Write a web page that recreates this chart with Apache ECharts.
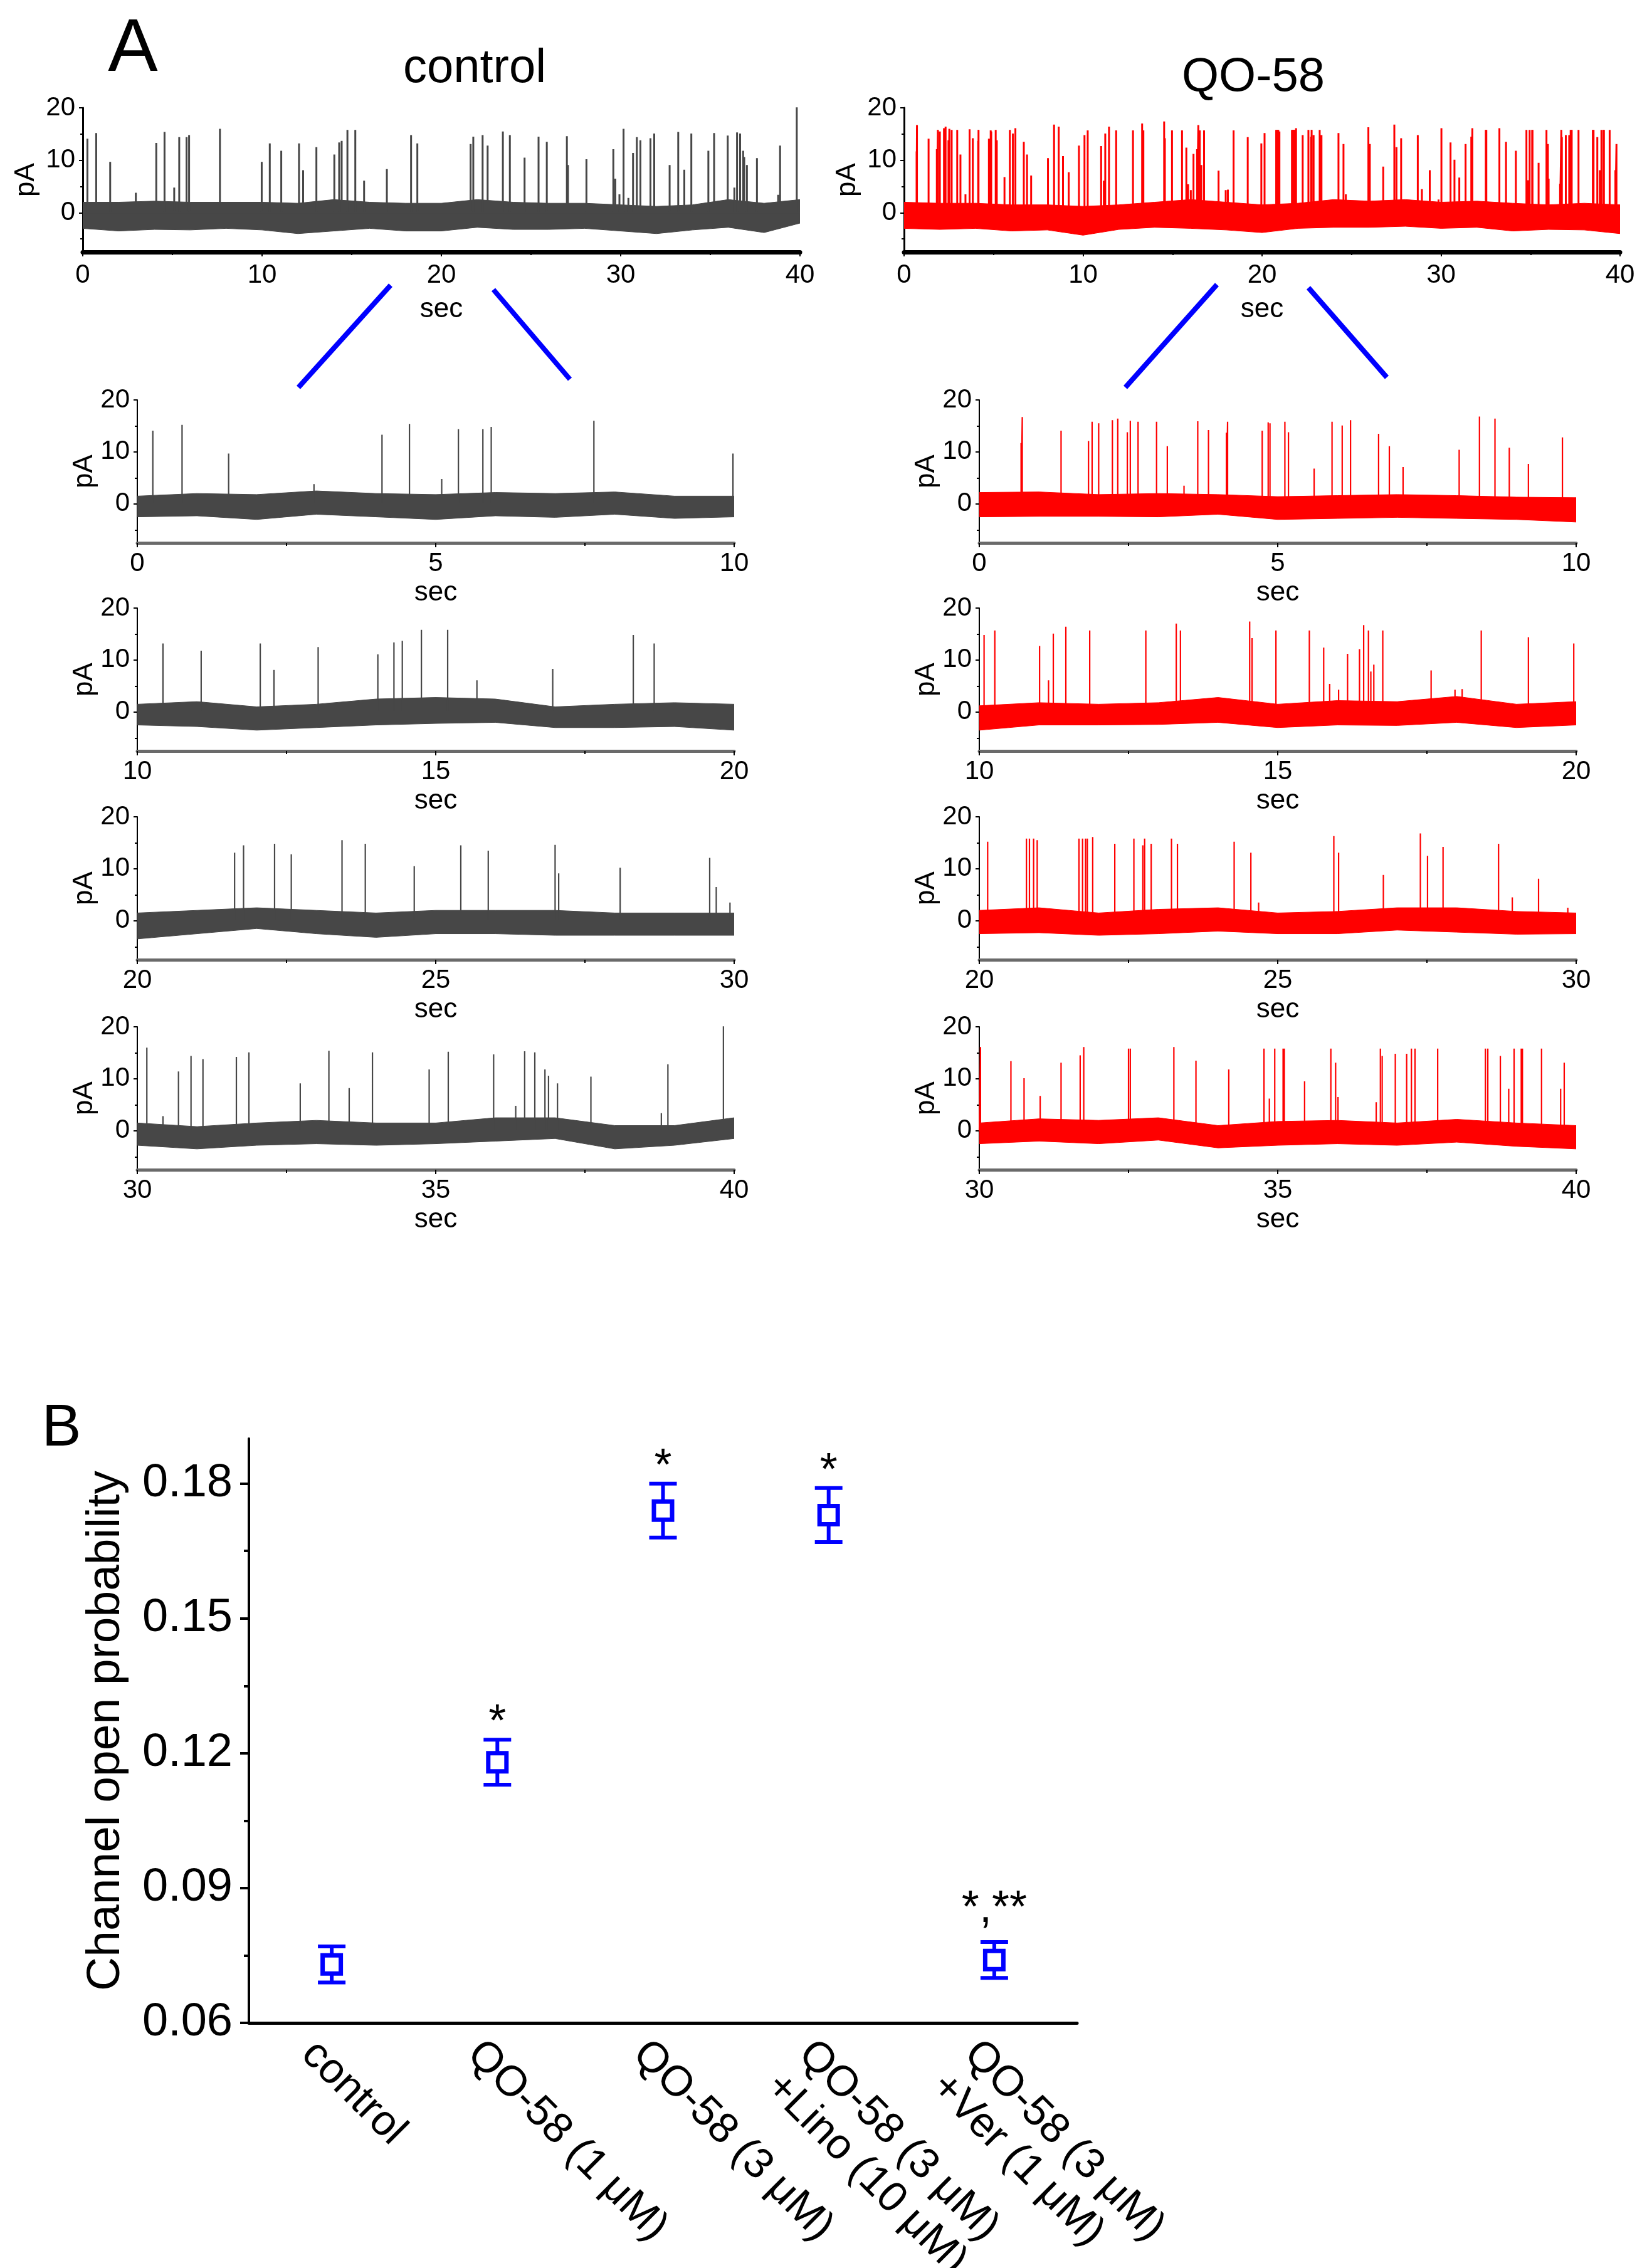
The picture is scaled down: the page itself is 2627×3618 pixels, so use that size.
<!DOCTYPE html>
<html><head><meta charset="utf-8">
<script src="https://cdn.jsdelivr.net/npm/echarts@6/dist/echarts.min.js"></script>
<style>html,body{margin:0;padding:0;background:#fff}#c{width:2627px;height:3618px}</style>
</head><body><div id="c"></div>
<script>
// ---------------- DATA ----------------
// single-channel openings: [time (s), amplitude (pA)]
const ctrlSpikes = [
 [0.26,14.1],[0.75,15.2],[1.53,9.7],[2.96,3.8],[4.10,13.3],[4.56,15.4],[5.10,4.8],[5.38,14.4],[5.79,14.4],[5.93,14.8],[7.65,16.0],[9.98,9.7],
 [10.43,13.2],[11.07,11.8],[12.06,13.2],[12.29,8.1],[13.03,12.5],[14.03,11.1],[14.30,13.4],[14.44,13.7],[14.76,15.8],[15.20,15.8],[15.69,6.1],[16.96,8.3],[18.31,14.8],[18.66,13.2],
 [21.63,13.1],[21.78,14.5],[22.30,14.8],[22.58,12.8],[23.43,15.5],[23.82,14.8],[24.64,10.5],[25.42,14.5],[25.88,13.5],[27.00,14.6],[27.06,9.1],[28.09,10.2],[29.59,12.1],[29.70,6.5],[29.93,3.5],
 [30.16,16.0],[30.43,2.8],[30.69,11.4],[30.90,14.4],[31.10,13.8],[31.66,14.2],[31.87,15.1],[32.73,9.1],[33.21,15.4],[33.55,8.2],[33.94,15.1],[34.89,11.8],[35.21,15.2],[35.97,14.7],[36.34,4.8],[36.49,15.3],[36.66,15.1],[36.83,11.8],[36.89,10.6],[37.04,9.1],[37.60,10.4],[38.78,3.4],[38.89,12.8],[39.82,20.1]
];
const qoSpikes = [
 [0.70,11.7],[0.72,16.7],[1.37,14.1],[1.83,12.1],[1.89,15.8],[2.00,15.5],[2.23,16.1],[2.32,16.4],[2.48,13.8],[2.53,16.0],[2.66,15.8],[2.97,15.8],[3.15,11.1],[3.43,3.5],[3.66,15.9],[3.84,14.2],[4.14,13.7],[4.16,15.8],[4.74,14.1],[4.84,15.7],[4.87,15.5],[5.12,15.8],[5.18,13.8],[5.61,6.8],[5.91,15.8],[6.08,15.1],[6.22,16.1],[6.69,13.5],[6.87,11.1],[7.10,7.1],[8.04,10.4],[8.38,16.8],[8.64,16.4],[8.88,10.8],[9.20,7.7],[9.77,12.8],
 [10.08,14.8],[10.26,15.7],[11.01,12.7],[11.16,6.1],[11.24,15.1],[11.45,16.4],[11.85,15.7],[12.79,15.7],[13.30,17.0],[13.37,15.7],[14.53,17.4],[14.57,14.2],[14.97,15.7],[15.53,15.7],[15.77,12.4],[15.87,5.4],[16.02,4.3],[16.17,11.2],[16.37,12.1],[16.44,16.7],[16.52,15.7],[16.56,7.8],[16.61,9.1],[16.76,15.7],[17.57,8.0],[17.97,4.3],[18.09,4.4],[18.41,15.7],[19.20,14.4],[19.96,13.2],
 [20.14,15.2],[20.79,15.8],[20.84,15.8],[20.91,15.8],[20.97,15.5],[21.67,15.8],[21.73,15.8],[21.78,15.8],[21.81,15.8],[21.90,16.1],[22.27,14.8],[22.59,15.8],[22.74,14.5],[22.77,15.8],[22.88,14.8],[23.22,15.8],[23.32,14.8],[24.27,15.2],[24.55,13.1],[24.68,3.5],[25.94,16.3],[26.02,13.1],[26.77,8.8],[27.39,16.8],[27.51,12.5],[27.77,14.2],[28.70,14.8],[28.93,4.5],[29.37,8.1],[29.86,2.5],
 [30.02,16.1],[30.53,13.4],[30.75,10.1],[31.02,6.7],[31.37,13.1],[31.69,14.5],[31.75,16.1],[32.50,15.8],[32.53,15.8],[33.26,16.1],[33.63,13.5],[34.18,11.8],[34.77,15.8],[34.86,6.2],[34.95,15.8],[35.09,15.8],[35.11,15.8],[35.45,9.5],[35.89,15.8],[35.97,13.1],[36.01,6.5],[36.65,5.5],[36.72,15.8],[36.75,14.4],[36.97,14.8],[37.16,14.8],[37.24,15.8],[37.30,15.8],[37.68,15.8],[38.48,15.8],[38.52,15.8],[38.73,14.4],[38.87,8.1],[38.96,15.8],[39.08,15.8],[39.10,15.8],[39.42,15.8],[39.74,8.1],[39.80,13.1]
];
// baseline noise envelope seen in the 10-s panels (1-s steps)
const envT = [0,1,2,3,4,5,6,7,8,9,10,11,12,13,14,15,16,17,18,19,20,21,22,23,24,25,26,27,28,29,30,31,32,33,34,35,36,37,38,39,40];
const ctrlEnvHi = [1.5,2.0,1.8,2.5,2.0,1.8,2.2,2.0,2.3,1.5,1.5,2.0,1.0,1.5,2.5,2.8,2.5,1.0,1.5,1.8,1.5,2.0,2.5,2.0,1.5,2.0,2.0,2.0,1.5,1.5,1.5,0.8,1.5,2.0,1.5,1.5,2.5,2.5,1.0,1.0,2.5];
const ctrlEnvLo = [-2.5,-2.3,-3.0,-2.0,-2.5,-3.0,-2.3,-2.6,-2.0,-2.8,-2.5,-2.8,-3.5,-3.0,-2.5,-2.2,-2.0,-3.0,-3.0,-2.8,-3.5,-2.5,-1.5,-2.5,-3.2,-2.5,-2.5,-2.8,-2.8,-2.8,-2.8,-3.5,-2.8,-2.5,-2.8,-2.5,-2.0,-1.5,-3.5,-2.8,-1.5];
const qoEnvHi = [2.2,2.3,1.8,2.0,1.8,1.4,1.6,1.8,1.6,1.3,1.2,1.8,1.5,1.8,2.8,1.5,2.2,2.0,3.0,1.5,2.0,2.5,1.5,2.2,2.5,1.5,1.8,2.5,2.5,1.8,1.5,2.3,2.0,2.5,1.0,1.8,2.0,1.5,2.2,1.5,1.0];
const qoEnvLo = [-2.5,-2.4,-2.4,-2.5,-2.0,-3.0,-2.8,-2.6,-2.8,-3.0,-3.5,-2.5,-2.5,-2.4,-2.0,-3.0,-2.5,-2.6,-2.0,-3.0,-2.5,-2.3,-2.8,-2.5,-2.0,-2.5,-2.5,-1.8,-2.2,-2.6,-2.5,-2.0,-2.5,-1.8,-3.3,-2.8,-2.5,-2.8,-2.2,-3.0,-3.5];
// noise envelope seen in the 40-s overview traces (2-s steps)
const ovT = [0,2,4,6,8,10,12,14,16,18,20,22,24,26,28,30,32,34,36,38,40];
const ctrlOvHi = [2.0,2.0,2.2,2.0,2.0,2.0,1.8,2.5,2.0,1.8,1.8,2.5,2.0,1.8,1.8,1.5,1.2,1.5,2.5,1.8,2.5];
const ctrlOvLo = [-3.0,-3.5,-3.2,-3.3,-3.0,-3.3,-4.0,-3.5,-3.0,-3.5,-3.5,-2.8,-3.2,-3.2,-3.0,-3.5,-4.0,-3.3,-2.8,-3.8,-2.0];
const qoOvHi = [2.0,1.8,1.8,1.5,1.5,1.2,1.5,2.0,2.5,2.0,1.5,1.8,2.5,2.2,2.5,2.0,2.2,1.8,1.5,1.8,1.5];
const qoOvLo = [-3.0,-3.2,-3.0,-3.5,-3.3,-4.3,-3.2,-2.8,-3.0,-3.3,-3.8,-3.0,-2.8,-2.8,-2.6,-3.0,-2.8,-3.5,-3.2,-3.3,-4.0];
const pATicks = [0, 10, 20];
const pAMinor = [-5, 5, 15];
const segStarts = [0, 10, 20, 30];

// panel B
const groups = ['control', 'QO-58 (1 μM)', 'QO-58 (3 μM)', 'QO-58 (3 μM)\n+Lino (10 μM)', 'QO-58 (3 μM)\n+Ver (1 μM)'];
const openProb = [0.073, 0.118, 0.174, 0.173, 0.074];
const openProbErr = [0.004, 0.005, 0.006, 0.006, 0.004];
const sigMarks = ['', '*', '*', '*', '*,**'];
const probTicks = [0.06, 0.09, 0.12, 0.15, 0.18];
const probMinor = [0.075, 0.105, 0.135, 0.165];

// ---------------- BUILD ----------------
const FONT = '"Liberation Sans", Arial, sans-serif';
const GREY = '#474747', RED = '#ff0000', BLUE = '#0000ff';
const grids = [], xAxes = [], yAxes = [], series = [];

function rowsFor(T, hi, lo, t0, t1) {
  const r = [];
  for (let i = 0; i < T.length; i++) if (T[i] >= t0 && T[i] <= t1) r.push([T[i], hi[i], lo[i]]);
  return r;
}
function addTrace(g, t0, t1, spikes, envRows, color, big) {
  const gi = grids.length;
  grids.push({left: g.left, top: g.top, width: g.width, height: g.height, outerBoundsMode: 'none', containLabel: false});
  xAxes.push({
    type: 'value', gridIndex: gi, position: 'bottom', min: t0, max: t1, interval: big ? 10 : 5,
    axisLine: {show: true, onZero: false, lineStyle: {color: big ? '#000' : '#6a6a6a', width: big ? 7 : 5}},
    axisTick: {show: true, length: 7, lineStyle: {color: '#000', width: 2}},
    minorTick: {show: true, splitNumber: 2, length: 5, lineStyle: {color: '#000', width: 2}},
    splitLine: {show: false}, minorSplitLine: {show: false},
    axisLabel: {fontSize: 42, color: '#000', fontFamily: FONT, margin: big ? 16 : 12},
    name: 'sec', nameLocation: 'middle', nameGap: big ? 70 : 58,
    nameTextStyle: {fontSize: 44, color: '#000', fontFamily: FONT}
  });
  yAxes.push({
    type: 'value', gridIndex: gi, position: 'left', min: -7.5, max: 20,
    axisLine: {show: true, onZero: false, lineStyle: {color: '#000', width: big ? 3 : 2}},
    axisTick: {show: true, length: 6, customValues: pATicks, lineStyle: {color: '#000', width: 2}},
    axisLabel: {fontSize: 42, color: '#000', fontFamily: FONT, margin: 12, customValues: pATicks},
    splitLine: {show: false},
    name: 'pA', nameLocation: 'middle', nameGap: big ? 68 : 62,
    nameTextStyle: {fontSize: 44, color: '#000', fontFamily: FONT}
  });
  yAxes.push({
    type: 'value', gridIndex: gi, position: 'left', offset: 0, min: -7.5, max: 20,
    axisLine: {show: false}, splitLine: {show: false},
    axisTick: {show: true, length: 4, customValues: pAMinor, lineStyle: {color: '#000', width: 2}},
    axisLabel: {show: false}
  });
  const yi = 2 * gi;
  series.push({
    type: 'custom', xAxisIndex: gi, yAxisIndex: yi, clip: true, silent: true, z: 2,
    data: envRows, encode: {x: 0, y: [1, 2]},
    renderItem: function (params, api) {
      if (params.dataIndex !== 0) return null;
      const up = envRows.map(r => api.coord([r[0], r[1]]));
      const dn = envRows.slice().reverse().map(r => api.coord([r[0], r[2]]));
      return {type: 'polygon', shape: {points: up.concat(dn)}, style: {fill: color, stroke: color, lineWidth: 1}};
    }
  });
  const d = [[t0, 0]];
  spikes.filter(s => s[0] >= t0 && s[0] <= t1).forEach(s => { d.push([s[0], 0], [s[0], s[1]], [s[0], 0]); });
  d.push([t1, 0]);
  series.push({
    type: 'line', xAxisIndex: gi, yAxisIndex: yi, data: d, symbol: 'none', showSymbol: false,
    clip: true, silent: true, z: 3, lineStyle: {color: color, width: big ? 3 : 2.2}
  });
}

// overview traces
addTrace({left: 132, top: 172, width: 1144, height: 230}, 0, 40, ctrlSpikes, rowsFor(ovT, ctrlOvHi, ctrlOvLo, 0, 40), GREY, true);
addTrace({left: 1442, top: 172, width: 1142, height: 230}, 0, 40, qoSpikes, rowsFor(ovT, qoOvHi, qoOvLo, 0, 40), RED, true);
// expanded 10-s segments
const segTops = [638, 970, 1303, 1638];
segStarts.forEach((t0, k) => {
  addTrace({left: 219, top: segTops[k], width: 952, height: 228}, t0, t0 + 10, ctrlSpikes, rowsFor(envT, ctrlEnvHi, ctrlEnvLo, t0, t0 + 10), GREY, false);
  addTrace({left: 1562, top: segTops[k], width: 952, height: 228}, t0, t0 + 10, qoSpikes, rowsFor(envT, qoEnvHi, qoEnvLo, t0, t0 + 10), RED, false);
});

// panel B
const bg = grids.length;
grids.push({left: 397, top: 2295, width: 1321, height: 932, outerBoundsMode: 'none', containLabel: false});
xAxes.push({
  type: 'category', gridIndex: bg, position: 'bottom', data: groups, boundaryGap: true,
  axisLine: {show: true, lineStyle: {color: '#000', width: 5}},
  axisTick: {show: false},
  axisLabel: {interval: 0, rotate: -45, fontSize: 68, color: '#000', fontFamily: FONT, margin: 2,
    lineHeight: 74, verticalAlign: 'top', padding: [16, 0, 0, 0]}
});
yAxes.push({
  type: 'value', gridIndex: bg, position: 'left', min: 0.06, max: 0.19,
  axisLine: {show: true, onZero: false, lineStyle: {color: '#000', width: 4}},
  axisTick: {show: true, length: 14, customValues: probTicks, lineStyle: {color: '#000', width: 4}},
  axisLabel: {fontSize: 74, color: '#000', fontFamily: FONT, margin: 26, customValues: probTicks,
    formatter: v => v.toFixed(2)},
  splitLine: {show: false},
  name: 'Channel open probability', nameLocation: 'middle', nameGap: 190,
  nameTextStyle: {fontSize: 75, color: '#000', fontFamily: FONT}
});
yAxes.push({
  type: 'value', gridIndex: bg, position: 'left', offset: 0, min: 0.06, max: 0.19,
  axisLine: {show: false}, splitLine: {show: false}, axisLabel: {show: false},
  axisTick: {show: true, length: 8, customValues: probMinor, lineStyle: {color: '#000', width: 4}}
});
const bRows = groups.map((g, i) => [i, openProb[i], openProbErr[i]]);
series.push({
  type: 'custom', xAxisIndex: bg, yAxisIndex: 2 * bg, silent: true, z: 3,
  data: bRows, encode: {x: 0, y: 1},
  renderItem: function (params, api) {
    const i = api.value(0), m = api.value(1), e = api.value(2);
    const top = api.coord([i, m + e]), bot = api.coord([i, m - e]);
    const hw = 22, st = {stroke: BLUE, lineWidth: 6};
    return {type: 'group', children: [
      {type: 'line', shape: {x1: top[0], y1: top[1], x2: bot[0], y2: bot[1]}, style: st},
      {type: 'line', shape: {x1: top[0] - hw, y1: top[1], x2: top[0] + hw, y2: top[1]}, style: st},
      {type: 'line', shape: {x1: bot[0] - hw, y1: bot[1], x2: bot[0] + hw, y2: bot[1]}, style: st}
    ]};
  }
});
series.push({
  type: 'scatter', xAxisIndex: bg, yAxisIndex: 2 * bg, silent: true, z: 4,
  data: openProb.map((m, i) => [i, m]), symbol: 'rect', symbolSize: 29,
  itemStyle: {color: '#fff', borderColor: BLUE, borderWidth: 7, opacity: 1}
});
series.push({
  type: 'custom', xAxisIndex: bg, yAxisIndex: 2 * bg, silent: true, z: 5,
  data: bRows, encode: {x: 0, y: 1},
  renderItem: function (params, api) {
    const i = params.dataIndex, txt = sigMarks[i];
    if (!txt) return null;
    const top = api.coord([api.value(0), api.value(1) + api.value(2)]);
    const lift = txt.indexOf(',') >= 0 ? 52 : 26;
    return {type: 'text', x: top[0], y: top[1] - lift,
      style: {text: txt, fontSize: 72, fontFamily: FONT, fill: '#000', textAlign: 'center', textVerticalAlign: 'middle'}};
  }
});

const txt = (x, y, s, size) => ({type: 'text', x: x, y: y, silent: true,
  style: {text: s, fontSize: size, fontFamily: FONT, fill: '#000', textAlign: 'center', textVerticalAlign: 'middle'}});
const seg = (x1, y1, x2, y2) => ({type: 'line', silent: true, shape: {x1, y1, x2, y2}, style: {stroke: BLUE, lineWidth: 8}});

const chart = echarts.init(document.getElementById('c'), null, {renderer: 'canvas'});
chart.setOption({
  animation: false,
  backgroundColor: '#fff',
  textStyle: {fontFamily: FONT},
  grid: grids, xAxis: xAxes, yAxis: yAxes, series: series,
  graphic: [
    txt(212, 80, 'A', 119),
    txt(757, 110, 'control', 76),
    txt(1999, 124, 'QO-58', 76),
    txt(98, 2280, 'B', 94),
    seg(476, 618, 623, 455), seg(787, 462, 909, 605),
    seg(1795, 618, 1941, 454), seg(2087, 459, 2212, 602)
  ]
});
</script></body></html>
